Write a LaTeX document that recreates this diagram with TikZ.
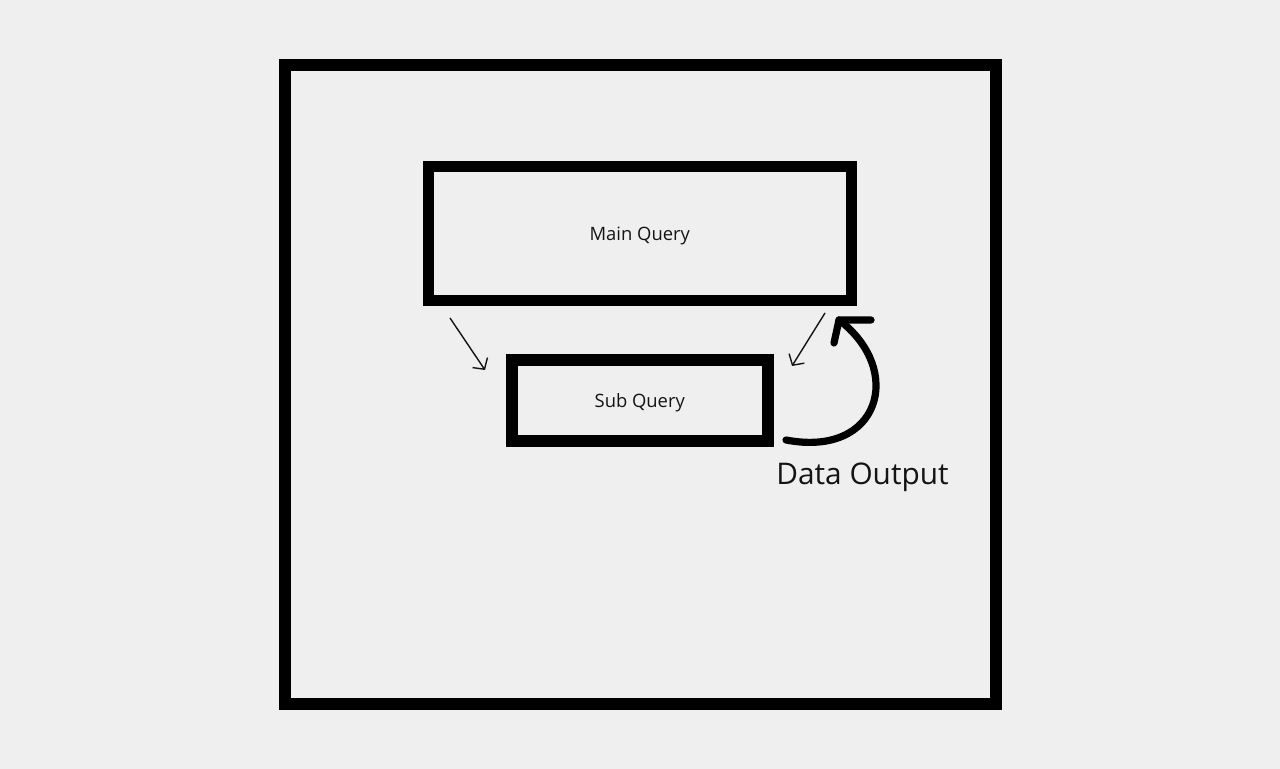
\documentclass[tikz,border=0pt]{standalone}
\usepackage{fontspec}
\setmainfont{Open Sans}
\usetikzlibrary{arrows.meta}
\definecolor{paper}{RGB}{239,239,239}
\definecolor{ink}{RGB}{20,20,20}

\tikzset{
    box/.style={draw=black, inner sep=0pt, outer sep=0pt},
    boxtext/.style={font=\fontsize{9.2}{11}\selectfont, text=ink, text height=7.5pt, text depth=0.94pt},
    thinarrow/.style={-{Straight Barb[length=4pt,width=9pt]}, line width=0.7pt, ink},
    bigarrow/.style={line width=3.6pt, line cap=round, line join=round, black}
}

\begin{document}
\begin{tikzpicture}[x=0.5pt, y=-0.5pt]

    % Define the page
    \fill[paper] (0,0) rectangle (1280,769);
    \useasboundingbox (0,0) rectangle (1280,769);

    % Draw the outer frame
    \node[box, line width=6pt, minimum width=355.75pt, minimum height=319.5pt] (frame) at (640.25,384.5) {};

    % Draw the query boxes
    \node[box, boxtext, line width=5.5pt, minimum width=211.75pt, minimum height=67pt] (main) at (639.75,233.5) {Main Query};
    \node[box, boxtext, line width=6pt, minimum width=128.25pt, minimum height=40.75pt] (sub) at (639.75,400.75) {Sub Query};

    % Draw the thin arrows
    \coordinate (l1) at (450,318);
    \coordinate (l2) at (485,370);
    \coordinate (r1) at (825,313);
    \coordinate (r2) at (792,366);
    \draw[thinarrow] (l1) -- (l2);
    \draw[thinarrow] (r1) -- (r2);

    % Draw the data output arrow
    \coordinate (o1) at (786,440);
    \coordinate (tip) at (839,320);
    \draw[bigarrow] (o1) .. controls (880,458) and (905,370) .. (tip);
    \draw[bigarrow] (834,343) -- (tip) -- (871,320);

    % Label the output
    \node[font=\fontsize{14.9}{18}\selectfont, text=ink, anchor=base west, inner sep=0pt] (out) at (776,485) {Data Output};
\end{tikzpicture}
\end{document}
